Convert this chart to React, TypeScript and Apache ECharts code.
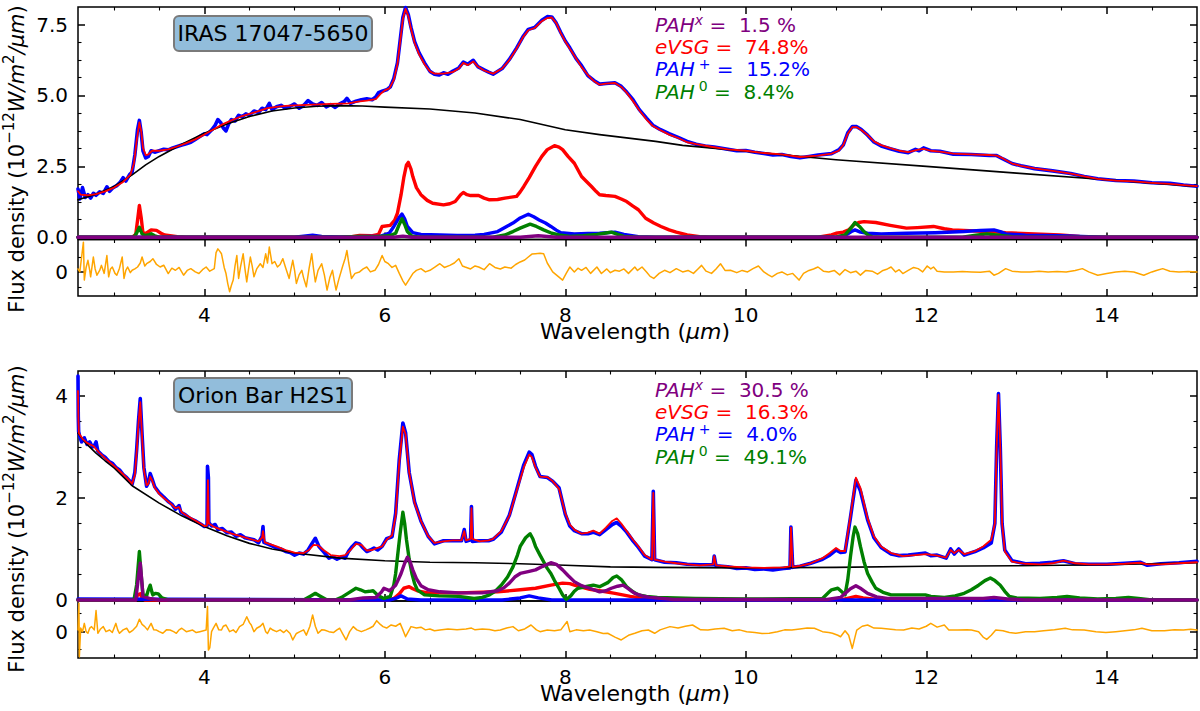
import * as echarts from "echarts";
import { useEffect, useRef } from "react";

const FONT = "DejaVu Sans";
const X_MIN = 2.6;
const X_MAX = 15;

// tick positions and labels
const xMajorTicks = [4, 6, 8, 10, 12, 14];
const xMinorTicks = [3, 3.5, 4.5, 5, 5.5, 6.5, 7, 7.5, 8.5, 9, 9.5, 10.5, 11, 11.5, 12.5, 13, 13.5, 14.5];
const topYMajor = [0, 2.5, 5, 7.5];
const topYMinor = [0.625, 1.25, 1.875, 3.125, 3.75, 4.375, 5.625, 6.25, 6.875];
const botYMajor = [0, 2, 4];
const botYMinor = [0.5, 1, 1.5, 2.5, 3, 3.5];
const resMajor = [0];
const resMinor = [-1, 1];

// annotation texts
const sourceNames = ["IRAS 17047-5650", "Orion Bar H2S1"];
const fracNames = ["PAH", "eVSG", "PAH", "PAH"];
const fracSups = ["x", "", "+", "0"];
const topPercents = ["1.5 %", "74.8%", "15.2%", "8.4%"];
const botPercents = ["30.5 %", "16.3%", "4.0%", "49.1%"];

// ---- IRAS 17047-5650 ----
const topObs = [
  [2.6, 1.7], [2.62, 1.35], [2.65, 1.75], [2.68, 1.4], [2.71, 1.5], [2.74, 1.38], [2.77, 1.55], [2.8, 1.48],
  [2.84, 1.6], [2.88, 1.55], [2.92, 1.78], [2.95, 1.62], [2.99, 1.75], [3.03, 1.82], [3.07, 1.95], [3.1, 2.1],
  [3.13, 1.98], [3.17, 2.2], [3.2, 2.3], [3.23, 2.9], [3.26, 3.8], [3.28, 4.12], [3.3, 3.7], [3.32, 3.05],
  [3.35, 2.8], [3.38, 2.85], [3.41, 3.05], [3.45, 3.0], [3.5, 3.05], [3.55, 3.1], [3.6, 3.08], [3.65, 3.15],
  [3.7, 3.2], [3.75, 3.25], [3.8, 3.3], [3.85, 3.35], [3.9, 3.45], [3.95, 3.55], [4.0, 3.65], [4.03, 3.62],
  [4.08, 3.78], [4.12, 3.95], [4.15, 4.15], [4.18, 4.05], [4.21, 3.85], [4.24, 3.75], [4.27, 4.0], [4.3, 4.15],
  [4.34, 4.1], [4.38, 4.3], [4.42, 4.25], [4.46, 4.35], [4.5, 4.3], [4.55, 4.45], [4.6, 4.4], [4.64, 4.55],
  [4.68, 4.5], [4.72, 4.72], [4.75, 4.5], [4.8, 4.6], [4.85, 4.65], [4.9, 4.55], [4.95, 4.62], [5.0, 4.7],
  [5.05, 4.55], [5.1, 4.65], [5.15, 4.82], [5.2, 4.7], [5.25, 4.65], [5.3, 4.75], [5.35, 4.6], [5.4, 4.68],
  [5.45, 4.58], [5.5, 4.7], [5.55, 4.78], [5.58, 4.9], [5.62, 4.72], [5.68, 4.8], [5.74, 4.85], [5.8, 4.88],
  [5.86, 4.85], [5.9, 4.95], [5.93, 5.1], [5.97, 5.15], [6.02, 5.2], [6.06, 5.3], [6.1, 5.6], [6.14, 6.15],
  [6.17, 6.95], [6.2, 7.75], [6.23, 8.1], [6.26, 7.85], [6.29, 7.4], [6.33, 6.9], [6.38, 6.5], [6.44, 6.15],
  [6.5, 5.85], [6.55, 5.75], [6.6, 5.72], [6.65, 5.8], [6.7, 5.75], [6.75, 5.85], [6.82, 5.97], [6.87, 6.18],
  [6.92, 6.1], [6.98, 6.24], [7.03, 6.02], [7.1, 5.9], [7.15, 5.82], [7.2, 5.75], [7.3, 5.95], [7.38, 6.27],
  [7.46, 6.67], [7.53, 7.07], [7.59, 7.33], [7.66, 7.4], [7.74, 7.65], [7.8, 7.78], [7.85, 7.77], [7.9, 7.55],
  [7.95, 7.22], [8.0, 6.92], [8.05, 6.68], [8.12, 6.3], [8.18, 6.05], [8.25, 5.7], [8.32, 5.52], [8.38, 5.4],
  [8.45, 5.42], [8.55, 5.45], [8.62, 5.32], [8.68, 5.12], [8.75, 4.85], [8.82, 4.5], [8.9, 4.2], [8.97, 3.95],
  [9.05, 3.8], [9.15, 3.65], [9.25, 3.52], [9.35, 3.38], [9.45, 3.28], [9.55, 3.22], [9.65, 3.18], [9.8, 3.1],
  [9.9, 3.05], [10.0, 3.06], [10.1, 3.0], [10.2, 2.95], [10.3, 2.9], [10.4, 2.92], [10.5, 2.85], [10.6, 2.8],
  [10.7, 2.85], [10.8, 2.9], [10.95, 2.95], [11.03, 3.08], [11.08, 3.25], [11.13, 3.68], [11.18, 3.9], [11.23, 3.9],
  [11.28, 3.8], [11.35, 3.6], [11.42, 3.36], [11.5, 3.22], [11.6, 3.12], [11.7, 3.03], [11.8, 2.98], [11.88, 3.1],
  [11.92, 3.05], [11.97, 3.15], [12.05, 3.05], [12.15, 3.03], [12.3, 2.93], [12.5, 2.92], [12.7, 2.88], [12.78, 2.88],
  [12.85, 2.76], [12.95, 2.6], [13.05, 2.52], [13.2, 2.42], [13.4, 2.34], [13.6, 2.25], [13.75, 2.14], [13.9, 2.06],
  [14.1, 2.0], [14.3, 1.98], [14.5, 1.92], [14.7, 1.9], [14.85, 1.84], [15.0, 1.8],
];
const topModel = [
  [2.6, 1.62], [2.63, 1.5], [2.7, 1.48], [2.8, 1.52], [2.9, 1.62], [3.0, 1.75], [3.1, 1.95], [3.18, 2.2],
  [3.22, 2.6], [3.25, 3.4], [3.28, 4.05], [3.3, 3.75], [3.32, 3.15], [3.35, 2.9], [3.38, 2.92], [3.42, 3.05],
  [3.5, 3.05], [3.6, 3.1], [3.7, 3.2], [3.8, 3.32], [3.9, 3.45], [4.0, 3.62], [4.1, 3.8], [4.2, 3.98],
  [4.3, 4.12], [4.4, 4.25], [4.5, 4.35], [4.6, 4.45], [4.7, 4.55], [4.8, 4.6], [4.9, 4.63], [5.0, 4.65],
  [5.2, 4.68], [5.4, 4.7], [5.6, 4.72], [5.7, 4.78], [5.8, 4.82], [5.9, 4.87], [5.95, 5.05], [6.0, 5.18],
  [6.05, 5.25], [6.1, 5.55], [6.14, 6.1], [6.17, 6.9], [6.2, 7.7], [6.23, 8.05], [6.26, 7.8], [6.29, 7.35],
  [6.33, 6.85], [6.38, 6.45], [6.44, 6.1], [6.5, 5.85], [6.55, 5.77], [6.65, 5.77], [6.75, 5.82], [6.82, 5.95],
  [6.87, 6.15], [6.92, 6.07], [6.98, 6.2], [7.03, 6.02], [7.1, 5.88], [7.2, 5.77], [7.3, 5.95], [7.38, 6.25],
  [7.46, 6.65], [7.53, 7.05], [7.59, 7.3], [7.66, 7.38], [7.74, 7.62], [7.8, 7.73], [7.85, 7.75], [7.9, 7.55],
  [7.95, 7.2], [8.0, 6.9], [8.05, 6.65], [8.12, 6.3], [8.18, 6.0], [8.25, 5.72], [8.32, 5.5], [8.38, 5.38],
  [8.45, 5.42], [8.55, 5.44], [8.62, 5.3], [8.68, 5.1], [8.75, 4.8], [8.82, 4.48], [8.9, 4.15], [8.97, 3.92],
  [9.05, 3.78], [9.15, 3.62], [9.25, 3.5], [9.35, 3.35], [9.45, 3.28], [9.6, 3.2], [9.8, 3.1], [10.0, 3.05],
  [10.2, 2.97], [10.4, 2.92], [10.6, 2.83], [10.8, 2.88], [10.95, 2.95], [11.03, 3.05], [11.08, 3.25], [11.13, 3.65],
  [11.18, 3.88], [11.23, 3.88], [11.28, 3.78], [11.35, 3.6], [11.42, 3.38], [11.5, 3.25], [11.6, 3.14], [11.7, 3.05],
  [11.8, 3.0], [11.9, 3.08], [11.97, 3.12], [12.05, 3.05], [12.15, 3.02], [12.3, 2.95], [12.5, 2.92], [12.7, 2.9],
  [12.78, 2.88], [12.85, 2.78], [12.95, 2.6], [13.05, 2.52], [13.2, 2.43], [13.4, 2.34], [13.6, 2.24], [13.75, 2.15],
  [13.9, 2.06], [14.1, 2.0], [14.3, 1.97], [14.5, 1.92], [14.7, 1.88], [14.85, 1.84], [15.0, 1.8],
];
const topCont = [
  [2.6, 1.32], [2.8, 1.52], [3.0, 1.79], [3.2, 2.2], [3.35, 2.55], [3.5, 2.85], [3.75, 3.28], [4.0, 3.67],
  [4.25, 3.99], [4.5, 4.26], [4.75, 4.45], [5.0, 4.56], [5.25, 4.62], [5.5, 4.64], [5.75, 4.63], [6.0, 4.59],
  [6.5, 4.52], [7.0, 4.38], [7.5, 4.15], [8.0, 3.79], [8.38, 3.62], [9.0, 3.38], [9.3, 3.24], [10.0, 3.03],
  [11.0, 2.73], [12.0, 2.5], [13.0, 2.26], [14.0, 2.03], [15.0, 1.79],
];
const topEvsg = [
  [2.6, 0], [3.2, 0], [3.24, 0.1], [3.26, 0.6], [3.28, 1.12], [3.3, 0.7], [3.32, 0.14], [3.36, 0.15],
  [3.41, 0.26], [3.47, 0.24], [3.52, 0.14], [3.56, 0.08], [3.7, 0.02], [3.8, 0], [5.6, 0], [5.72, 0.06],
  [5.85, 0.05], [5.93, 0.1], [5.97, 0.38], [6.06, 0.42], [6.11, 0.6], [6.14, 0.85], [6.18, 1.5], [6.21, 2.1],
  [6.24, 2.55], [6.26, 2.64], [6.29, 2.4], [6.31, 2.14], [6.35, 1.75], [6.4, 1.5], [6.47, 1.3], [6.53, 1.2],
  [6.65, 1.14], [6.72, 1.18], [6.78, 1.26], [6.84, 1.5], [6.87, 1.58], [6.91, 1.5], [6.95, 1.47], [7.04, 1.47],
  [7.1, 1.38], [7.16, 1.32], [7.25, 1.33], [7.33, 1.38], [7.46, 1.44], [7.5, 1.6], [7.54, 1.79], [7.6, 2.1],
  [7.67, 2.5], [7.74, 2.85], [7.8, 3.09], [7.88, 3.23], [7.93, 3.18], [7.97, 3.09], [8.03, 2.85], [8.1, 2.61],
  [8.18, 2.14], [8.24, 1.95], [8.29, 1.79], [8.34, 1.62], [8.38, 1.5], [8.45, 1.47], [8.55, 1.44], [8.62, 1.35],
  [8.68, 1.26], [8.75, 1.1], [8.81, 0.97], [8.89, 0.67], [8.98, 0.5], [9.06, 0.38], [9.15, 0.26], [9.23, 0.18],
  [9.35, 0.08], [9.49, 0.02], [9.6, 0], [10.8, 0], [10.95, 0.08], [11.0, 0.14], [11.08, 0.18], [11.14, 0.26],
  [11.2, 0.45], [11.25, 0.52], [11.31, 0.55], [11.44, 0.52], [11.6, 0.42], [11.78, 0.32], [11.9, 0.34], [12.08, 0.38],
  [12.2, 0.3], [12.29, 0.26], [12.54, 0.22], [12.7, 0.2], [12.88, 0.16], [13.2, 0.12], [13.48, 0.08], [13.7, 0.03],
  [13.9, 0], [15, 0],
];
const topPahPlus = [
  [2.6, 0], [5.0, 0], [5.1, 0.04], [5.2, 0.07], [5.3, 0.03], [5.5, 0.01], [5.8, 0.03], [5.95, 0.03],
  [6.05, 0.15], [6.1, 0.38], [6.16, 0.7], [6.19, 0.82], [6.22, 0.65], [6.25, 0.38], [6.31, 0.16], [6.4, 0.1],
  [6.61, 0.08], [6.8, 0.06], [7.0, 0.07], [7.1, 0.1], [7.25, 0.2], [7.35, 0.38], [7.42, 0.5], [7.5, 0.68],
  [7.59, 0.81], [7.65, 0.72], [7.71, 0.61], [7.78, 0.5], [7.84, 0.38], [7.9, 0.25], [7.95, 0.16], [8.1, 0.12],
  [8.25, 0.13], [8.38, 0.14], [8.55, 0.18], [8.65, 0.1], [8.81, 0.02], [9.0, 0], [11.0, 0], [11.1, 0.06],
  [11.17, 0.2], [11.21, 0.26], [11.27, 0.18], [11.35, 0.14], [11.5, 0.12], [11.78, 0.14], [12.1, 0.16], [12.42, 0.2],
  [12.6, 0.24], [12.75, 0.26], [12.82, 0.2], [12.88, 0.12], [13.1, 0.07], [13.48, 0.05], [13.8, 0.02], [14.0, 0],
  [15, 0],
];
const topPah0 = [
  [2.6, 0], [3.22, 0], [3.25, 0.15], [3.28, 0.35], [3.31, 0.12], [3.34, 0.06], [3.38, 0.08], [3.41, 0.12],
  [3.45, 0.05], [3.5, 0], [5.5, 0], [5.7, 0.03], [5.9, 0.02], [6.05, 0.05], [6.12, 0.14], [6.16, 0.45],
  [6.19, 0.65], [6.22, 0.45], [6.25, 0.2], [6.3, 0.04], [6.4, 0], [7.2, 0], [7.33, 0.08], [7.42, 0.2],
  [7.5, 0.32], [7.61, 0.46], [7.68, 0.38], [7.76, 0.26], [7.85, 0.14], [7.93, 0.08], [8.05, 0.03], [8.2, 0.05],
  [8.35, 0.1], [8.45, 0.15], [8.51, 0.18], [8.58, 0.1], [8.65, 0.03], [8.8, 0], [11.0, 0], [11.1, 0.08],
  [11.16, 0.3], [11.21, 0.52], [11.26, 0.38], [11.31, 0.2], [11.36, 0.06], [11.4, 0.02], [11.5, 0], [12.4, 0],
  [12.55, 0.07], [12.67, 0.12], [12.8, 0.07], [12.95, 0.02], [13.1, 0], [15, 0],
];
const topPahX = [
  [2.6, 0], [6.1, 0], [6.2, 0.04], [6.3, 0], [7.5, 0], [7.7, 0.05], [7.9, 0], [15, 0],
];
const topResid = [
  [2.6, 0.2], [2.62, 0], [2.64, 1.0], [2.66, 2.0], [2.67, -0.55], [2.69, 0.3], [2.71, 0.78], [2.73, 0.1],
  [2.74, -0.33], [2.77, 1.0], [2.79, 0.2], [2.81, -0.22], [2.84, 0.1], [2.86, 0.44], [2.89, -0.1], [2.92, 1.1],
  [2.94, -0.33], [2.96, 0.2], [2.98, 0.33], [3.01, -0.1], [3.03, -0.22], [3.06, 0.25], [3.09, 1.0], [3.11, -0.44],
  [3.13, 0.1], [3.15, 0.33], [3.18, -0.05], [3.2, 0.11], [3.23, 0.2], [3.26, 0.33], [3.29, 0.6], [3.31, 1.0],
  [3.34, 0.4], [3.36, 0.55], [3.4, 0.7], [3.43, 0.89], [3.47, 0.5], [3.51, 0.33], [3.55, 0.45], [3.6, -0.11],
  [3.64, 0.25], [3.68, 0.11], [3.72, 0.3], [3.77, -0.22], [3.81, 0.1], [3.85, 0.22], [3.9, 0.0], [3.94, -0.11],
  [3.98, 0.15], [4.02, 0.33], [4.06, 0.05], [4.11, 0.22], [4.13, 1.3], [4.15, 1.55], [4.17, 1.4], [4.19, 1.22],
  [4.22, 0.3], [4.24, -0.11], [4.26, -0.8], [4.28, -1.33], [4.3, -0.9], [4.32, -0.55], [4.34, 0.4], [4.36, 1.1],
  [4.38, -0.44], [4.4, 0.3], [4.43, 1.22], [4.45, 0.2], [4.47, -0.67], [4.49, 0.2], [4.51, 1.0], [4.53, 0.4],
  [4.55, -0.33], [4.58, 0.2], [4.62, 0.55], [4.65, 0.3], [4.68, 1.22], [4.7, 0.6], [4.72, 1.67], [4.75, 0.55],
  [4.78, 0.7], [4.81, 0.33], [4.84, 0.5], [4.87, 0.89], [4.9, 0.3], [4.94, -0.44], [4.96, 0.2], [4.98, 0.78],
  [5.0, 0.1], [5.02, -0.78], [5.05, -0.2], [5.08, 0.11], [5.1, -0.4], [5.13, -1.0], [5.16, 0.2], [5.19, 1.22],
  [5.21, 0.2], [5.23, -0.67], [5.26, 0.1], [5.3, 0.55], [5.33, -0.2], [5.36, -1.22], [5.39, -0.4], [5.42, 0.11],
  [5.44, -0.6], [5.46, -1.22], [5.49, -0.5], [5.53, 0.33], [5.56, 0.9], [5.58, 1.44], [5.6, 0.6], [5.63, -0.44],
  [5.67, -0.1], [5.72, 0.0], [5.76, 0.2], [5.8, 0.33], [5.84, 0.0], [5.89, 0.11], [5.93, 0.5], [5.97, 1.1],
  [6.0, 0.7], [6.04, 0.55], [6.08, 0.3], [6.12, 0.44], [6.16, -0.1], [6.2, -0.6], [6.23, -0.89], [6.27, -0.5],
  [6.31, -0.11], [6.35, 0.1], [6.4, 0.22], [6.45, 0.0], [6.5, 0.11], [6.55, 0.3], [6.61, 0.55], [6.66, 0.3],
  [6.72, 0.44], [6.77, 0.6], [6.82, 0.89], [6.86, 0.4], [6.89, 0.33], [6.95, 0.2], [7.0, 0.4], [7.04, 0.33],
  [7.1, 0.15], [7.16, 0.55], [7.22, 0.3], [7.28, 0.2], [7.33, 0.33], [7.4, 0.25], [7.45, 0.5], [7.5, 0.67],
  [7.55, 0.8], [7.59, 1.0], [7.63, 1.2], [7.67, 1.22], [7.72, 1.25], [7.76, 1.22], [7.8, 0.6], [7.86, 0.0],
  [7.92, -0.3], [7.97, -0.55], [8.01, -0.1], [8.05, 0.33], [8.1, 0.0], [8.14, 0.25], [8.18, 0.11], [8.23, 0.3],
  [8.28, -0.1], [8.35, 0.33], [8.4, -0.11], [8.46, 0.2], [8.5, -0.05], [8.55, 0.11], [8.6, 0.05], [8.65, 0.2],
  [8.7, -0.1], [8.77, 0.33], [8.8, 0.1], [8.85, 0.33], [8.9, 0.0], [8.94, -0.3], [8.98, -0.44], [9.04, -0.1],
  [9.1, 0.11], [9.16, -0.05], [9.23, 0.22], [9.3, 0.0], [9.36, 0.1], [9.42, -0.1], [9.47, 0.2], [9.51, 0.44],
  [9.56, 0.05], [9.62, -0.1], [9.67, 0.2], [9.72, 0.55], [9.77, 0.1], [9.83, 0.11], [9.9, -0.05], [9.96, 0.1],
  [10.02, 0.0], [10.08, 0.22], [10.14, 0.4], [10.2, 0.0], [10.25, -0.2], [10.29, -0.33], [10.35, -0.1], [10.4, 0.0],
  [10.46, -0.2], [10.52, -0.1], [10.59, -0.55], [10.64, -0.1], [10.7, 0.1], [10.75, 0.2], [10.8, 0.33], [10.86, 0.05],
  [10.92, 0.0], [10.98, 0.1], [11.04, -0.2], [11.1, 0.16], [11.16, -0.05], [11.22, 0.05], [11.27, -0.22], [11.33, 0.1],
  [11.4, 0.05], [11.46, -0.15], [11.52, 0.1], [11.57, 0.2], [11.61, 0.33], [11.66, 0.0], [11.7, 0.15], [11.74, -0.11],
  [11.8, 0.1], [11.86, 0.3], [11.91, 0.22], [11.96, 0.0], [12.01, 0.4], [12.05, 0.2], [12.08, 0.33], [12.12, 0.05],
  [12.2, 0.0], [12.3, 0.0], [12.4, 0.02], [12.5, 0.0], [12.6, -0.02], [12.7, 0.05], [12.75, -0.22], [12.8, -0.1],
  [12.88, 0.22], [12.95, 0.05], [13.05, 0.0], [13.15, 0.0], [13.25, 0.05], [13.35, 0.0], [13.45, 0.02], [13.55, 0.0],
  [13.65, 0.1], [13.73, 0.22], [13.8, 0.0], [13.9, -0.22], [14.0, -0.1], [14.1, 0.0], [14.2, 0.05], [14.3, 0.0],
  [14.41, -0.22], [14.5, 0.0], [14.55, 0.1], [14.62, 0.22], [14.7, 0.05], [14.8, 0.0], [14.9, 0.02], [15.0, 0.0],
];

// ---- Orion Bar H2S1 ----
const botObs = [
  [2.6, 4.39], [2.603, 3.6], [2.607, 3.3], [2.62, 3.2], [2.64, 3.1], [2.67, 3.18], [2.7, 3.05], [2.73, 3.1],
  [2.76, 3.0], [2.78, 3.02], [2.8, 3.1], [2.82, 2.92], [2.86, 2.85], [2.9, 2.8], [2.94, 2.72], [2.98, 2.68],
  [3.02, 2.6], [3.06, 2.55], [3.1, 2.46], [3.14, 2.4], [3.18, 2.32], [3.2, 2.27], [3.23, 2.5], [3.25, 2.95],
  [3.27, 3.5], [3.29, 3.95], [3.31, 3.25], [3.33, 2.6], [3.36, 2.23], [3.38, 2.3], [3.4, 2.48], [3.42, 2.38],
  [3.45, 2.22], [3.5, 2.1], [3.55, 2.02], [3.6, 1.93], [3.64, 1.88], [3.68, 1.78], [3.72, 1.85], [3.74, 1.72],
  [3.78, 1.68], [3.84, 1.6], [3.9, 1.55], [3.95, 1.5], [4.0, 1.44], [4.03, 1.45], [4.035, 2.62], [4.045, 2.4],
  [4.05, 1.52], [4.08, 1.45], [4.12, 1.48], [4.15, 1.38], [4.2, 1.4], [4.25, 1.32], [4.3, 1.33], [4.35, 1.25],
  [4.4, 1.28], [4.45, 1.22], [4.5, 1.2], [4.55, 1.18], [4.6, 1.12], [4.64, 1.25], [4.65, 1.44], [4.66, 1.13],
  [4.7, 1.1], [4.75, 1.06], [4.8, 1.02], [4.85, 1.0], [4.9, 0.95], [4.95, 0.93], [5.0, 0.88], [5.05, 0.92],
  [5.1, 0.9], [5.15, 0.98], [5.19, 1.1], [5.23, 1.21], [5.27, 1.05], [5.32, 0.95], [5.38, 0.82], [5.42, 0.85],
  [5.47, 0.8], [5.52, 0.84], [5.56, 0.82], [5.6, 0.96], [5.64, 1.05], [5.68, 1.12], [5.72, 1.1], [5.76, 1.02],
  [5.8, 0.95], [5.84, 0.98], [5.88, 1.02], [5.92, 0.98], [5.97, 1.05], [6.02, 1.2], [6.08, 1.24], [6.12, 1.7],
  [6.16, 2.75], [6.2, 3.47], [6.23, 3.28], [6.27, 2.5], [6.33, 1.92], [6.4, 1.55], [6.48, 1.25], [6.55, 1.1],
  [6.65, 1.16], [6.75, 1.16], [6.85, 1.16], [6.88, 1.38], [6.9, 1.15], [6.95, 1.18], [6.96, 1.83], [6.97, 1.15],
  [7.05, 1.16], [7.15, 1.16], [7.2, 1.19], [7.29, 1.33], [7.38, 1.66], [7.46, 2.15], [7.54, 2.65], [7.6, 2.9],
  [7.63, 2.85], [7.67, 2.62], [7.72, 2.42], [7.8, 2.4], [7.86, 2.33], [7.93, 2.2], [8.0, 1.68], [8.05, 1.45],
  [8.1, 1.36], [8.18, 1.3], [8.25, 1.3], [8.31, 1.33], [8.38, 1.28], [8.45, 1.38], [8.52, 1.48], [8.57, 1.52],
  [8.62, 1.45], [8.68, 1.33], [8.75, 1.16], [8.81, 1.03], [8.88, 0.86], [8.96, 0.79], [8.975, 2.13], [8.99, 0.79],
  [9.1, 0.74], [9.23, 0.73], [9.35, 0.7], [9.49, 0.69], [9.64, 0.69], [9.65, 0.86], [9.67, 0.67], [9.8, 0.65],
  [9.9, 0.62], [10.0, 0.63], [10.1, 0.6], [10.2, 0.61], [10.3, 0.59], [10.42, 0.62], [10.49, 0.63], [10.5, 1.43],
  [10.52, 0.64], [10.6, 0.66], [10.72, 0.72], [10.85, 0.8], [10.93, 0.88], [11.0, 0.98], [11.05, 0.93], [11.1, 0.94],
  [11.16, 1.62], [11.22, 2.35], [11.27, 2.14], [11.35, 1.57], [11.42, 1.22], [11.5, 1.03], [11.61, 0.9], [11.7, 0.87],
  [11.8, 0.88], [11.9, 0.9], [11.99, 0.92], [12.05, 0.87], [12.12, 0.88], [12.22, 0.82], [12.27, 1.0], [12.31, 0.9],
  [12.36, 1.0], [12.42, 0.88], [12.54, 0.95], [12.63, 1.02], [12.72, 1.12], [12.76, 1.5], [12.78, 3.0], [12.8, 4.05],
  [12.82, 3.0], [12.84, 1.5], [12.87, 0.98], [12.95, 0.77], [13.1, 0.71], [13.26, 0.72], [13.4, 0.74], [13.52, 0.77],
  [13.65, 0.71], [13.8, 0.7], [14.0, 0.7], [14.2, 0.72], [14.37, 0.74], [14.45, 0.68], [14.6, 0.71], [14.8, 0.73],
  [15.0, 0.76],
];
const botModel = [
  [2.6, 4.1], [2.605, 3.5], [2.61, 3.27], [2.65, 3.16], [2.7, 3.08], [2.77, 3.02], [2.83, 2.9], [2.9, 2.78],
  [3.0, 2.63], [3.08, 2.5], [3.15, 2.38], [3.2, 2.28], [3.23, 2.45], [3.25, 2.9], [3.27, 3.45], [3.29, 3.88],
  [3.31, 3.2], [3.33, 2.55], [3.36, 2.25], [3.38, 2.28], [3.4, 2.42], [3.42, 2.35], [3.45, 2.2], [3.5, 2.08],
  [3.55, 2.0], [3.62, 1.9], [3.68, 1.8], [3.72, 1.82], [3.75, 1.72], [3.8, 1.66], [3.9, 1.56], [4.0, 1.45],
  [4.03, 1.46], [4.04, 2.35], [4.05, 1.5], [4.1, 1.44], [4.2, 1.37], [4.3, 1.3], [4.4, 1.25], [4.5, 1.2],
  [4.6, 1.15], [4.64, 1.22], [4.65, 1.35], [4.67, 1.13], [4.8, 1.05], [4.9, 0.98], [5.0, 0.93], [5.1, 0.92],
  [5.16, 0.98], [5.21, 1.08], [5.26, 1.07], [5.32, 0.98], [5.4, 0.88], [5.5, 0.86], [5.56, 0.88], [5.62, 0.98],
  [5.68, 1.1], [5.74, 1.08], [5.8, 0.97], [5.86, 0.98], [5.92, 1.02], [5.97, 1.05], [6.02, 1.18], [6.08, 1.27],
  [6.12, 1.65], [6.16, 2.7], [6.2, 3.4], [6.23, 3.25], [6.27, 2.5], [6.33, 1.9], [6.4, 1.55], [6.48, 1.25],
  [6.55, 1.12], [6.65, 1.15], [6.75, 1.17], [6.85, 1.17], [6.88, 1.35], [6.9, 1.17], [6.95, 1.2], [6.96, 1.8],
  [6.97, 1.2], [7.05, 1.15], [7.15, 1.17], [7.2, 1.2], [7.29, 1.35], [7.38, 1.65], [7.46, 2.13], [7.54, 2.6],
  [7.6, 2.85], [7.63, 2.8], [7.67, 2.6], [7.72, 2.42], [7.8, 2.41], [7.86, 2.33], [7.93, 2.18], [8.0, 1.7],
  [8.05, 1.48], [8.1, 1.38], [8.18, 1.3], [8.25, 1.32], [8.31, 1.36], [8.38, 1.3], [8.45, 1.42], [8.52, 1.55],
  [8.57, 1.6], [8.62, 1.5], [8.68, 1.35], [8.75, 1.18], [8.81, 1.05], [8.88, 0.88], [8.96, 0.79], [8.975, 2.1],
  [8.99, 0.79], [9.1, 0.75], [9.23, 0.72], [9.35, 0.7], [9.49, 0.68], [9.64, 0.7], [9.65, 0.86], [9.67, 0.68],
  [9.8, 0.66], [10.0, 0.64], [10.2, 0.63], [10.42, 0.64], [10.49, 0.66], [10.5, 1.42], [10.52, 0.65], [10.6, 0.67],
  [10.72, 0.72], [10.85, 0.82], [10.93, 0.92], [11.0, 1.02], [11.05, 0.96], [11.1, 0.96], [11.16, 1.65], [11.22, 2.4],
  [11.27, 2.2], [11.35, 1.6], [11.42, 1.25], [11.5, 1.05], [11.61, 0.92], [11.74, 0.86], [11.88, 0.88], [12.0, 0.9],
  [12.12, 0.87], [12.22, 0.83], [12.27, 0.98], [12.31, 0.92], [12.36, 0.98], [12.42, 0.9], [12.54, 0.96], [12.63, 1.05],
  [12.72, 1.18], [12.76, 1.5], [12.78, 3.0], [12.8, 4.02], [12.82, 3.0], [12.84, 1.5], [12.87, 0.95], [12.95, 0.75],
  [13.1, 0.71], [13.26, 0.7], [13.4, 0.72], [13.52, 0.77], [13.65, 0.72], [13.8, 0.7], [14.0, 0.7], [14.2, 0.71],
  [14.37, 0.73], [14.45, 0.7], [14.6, 0.7], [14.8, 0.72], [15.0, 0.74],
];
const botCont = [
  [2.6, 3.27], [2.7, 3.05], [2.8, 2.88], [2.9, 2.73], [3.0, 2.59], [3.2, 2.24], [3.5, 1.9], [3.75, 1.65],
  [4.0, 1.44], [4.25, 1.26], [4.5, 1.11], [4.75, 1.0], [5.0, 0.92], [5.5, 0.82], [6.0, 0.77], [6.5, 0.74],
  [7.0, 0.73], [7.5, 0.71], [8.0, 0.68], [8.5, 0.65], [9.0, 0.64], [10.0, 0.63], [11.0, 0.64], [12.0, 0.66],
  [13.0, 0.67], [14.0, 0.69], [15.0, 0.73],
];
const botEvsg = [
  [2.6, 0], [3.24, 0], [3.26, 0.1], [3.29, 0.12], [3.31, 0.05], [3.34, 0], [6.05, 0], [6.1, 0.03],
  [6.16, 0.12], [6.21, 0.23], [6.27, 0.26], [6.31, 0.22], [6.36, 0.18], [6.48, 0.14], [6.82, 0.14], [7.25, 0.16],
  [7.5, 0.2], [7.67, 0.23], [7.84, 0.29], [7.97, 0.33], [8.05, 0.32], [8.1, 0.29], [8.27, 0.21], [8.38, 0.18],
  [8.55, 0.13], [8.72, 0.07], [8.9, 0.02], [9.1, 0], [11.05, 0], [11.15, 0.04], [11.22, 0.07], [11.3, 0.04],
  [11.45, 0.01], [11.6, 0], [15, 0],
];
const botPahPlus = [
  [2.6, 0.02], [6.05, 0], [6.12, 0.03], [6.18, 0.08], [6.25, 0.02], [6.4, 0], [7.3, 0], [7.5, 0.04],
  [7.6, 0.08], [7.7, 0.04], [7.85, 0], [15, 0],
];
const botPah0 = [
  [2.6, 0], [3.22, 0], [3.25, 0.3], [3.28, 0.95], [3.3, 0.5], [3.32, 0.1], [3.36, 0.08], [3.38, 0.2],
  [3.4, 0.29], [3.42, 0.15], [3.43, 0.1], [3.46, 0.13], [3.49, 0.12], [3.53, 0.04], [3.6, 0], [5.1, 0],
  [5.18, 0.08], [5.23, 0.13], [5.28, 0.08], [5.35, 0.01], [5.45, 0], [5.52, 0.05], [5.59, 0.13], [5.68, 0.23],
  [5.73, 0.2], [5.78, 0.16], [5.83, 0.17], [5.87, 0.18], [5.93, 0.08], [5.99, 0.03], [6.06, 0.07], [6.1, 0.3],
  [6.12, 0.52], [6.15, 1.0], [6.17, 1.31], [6.2, 1.72], [6.22, 1.5], [6.24, 1.18], [6.27, 0.8], [6.3, 0.52],
  [6.33, 0.32], [6.36, 0.2], [6.44, 0.1], [6.6, 0.08], [6.82, 0.07], [6.99, 0.03], [7.08, 0.05], [7.16, 0.1],
  [7.23, 0.18], [7.29, 0.29], [7.36, 0.45], [7.42, 0.65], [7.47, 0.88], [7.5, 1.05], [7.56, 1.22], [7.61, 1.3],
  [7.64, 1.2], [7.67, 1.05], [7.72, 0.88], [7.76, 0.75], [7.8, 0.62], [7.84, 0.52], [7.88, 0.38], [7.93, 0.23],
  [7.97, 0.1], [8.01, 0.01], [8.06, 0.08], [8.1, 0.17], [8.14, 0.23], [8.22, 0.26], [8.31, 0.29], [8.38, 0.26],
  [8.47, 0.34], [8.53, 0.44], [8.57, 0.47], [8.62, 0.4], [8.68, 0.26], [8.75, 0.16], [8.81, 0.1], [8.9, 0.07],
  [9.02, 0.05], [9.44, 0.03], [10.0, 0.02], [10.85, 0.03], [10.92, 0.15], [10.95, 0.2], [11.02, 0.23], [11.07, 0.15],
  [11.1, 0.1], [11.13, 0.4], [11.16, 0.85], [11.19, 1.25], [11.21, 1.43], [11.24, 1.3], [11.27, 1.05], [11.31, 0.75],
  [11.35, 0.52], [11.4, 0.35], [11.44, 0.23], [11.52, 0.15], [11.61, 0.1], [11.8, 0.1], [11.99, 0.1], [12.05, 0.07],
  [12.2, 0.05], [12.32, 0.08], [12.42, 0.13], [12.5, 0.2], [12.58, 0.29], [12.65, 0.38], [12.71, 0.43], [12.76, 0.38],
  [12.82, 0.29], [12.87, 0.17], [12.92, 0.07], [13.0, 0.04], [13.26, 0.03], [13.45, 0.05], [13.56, 0.07], [13.7, 0.04],
  [13.9, 0.02], [14.1, 0.03], [14.24, 0.05], [14.35, 0.03], [14.5, 0], [15, 0],
];
const botPahX = [
  [2.6, 0], [3.24, 0], [3.27, 0.45], [3.29, 0.72], [3.31, 0.3], [3.32, 0.07], [3.39, 0.03], [3.5, 0],
  [5.6, 0], [5.76, 0.04], [5.9, 0.05], [5.96, 0.15], [5.99, 0.23], [6.03, 0.2], [6.05, 0.18], [6.09, 0.24],
  [6.12, 0.29], [6.15, 0.4], [6.18, 0.52], [6.22, 0.72], [6.25, 0.84], [6.28, 0.75], [6.31, 0.59], [6.35, 0.42],
  [6.4, 0.28], [6.48, 0.2], [6.61, 0.16], [6.82, 0.14], [7.08, 0.14], [7.25, 0.18], [7.32, 0.24], [7.38, 0.33],
  [7.44, 0.45], [7.5, 0.52], [7.6, 0.56], [7.67, 0.59], [7.75, 0.66], [7.84, 0.73], [7.9, 0.7], [7.97, 0.59],
  [8.03, 0.48], [8.1, 0.36], [8.18, 0.28], [8.27, 0.23], [8.38, 0.16], [8.45, 0.18], [8.51, 0.23], [8.58, 0.27],
  [8.64, 0.29], [8.7, 0.22], [8.77, 0.13], [8.85, 0.08], [8.94, 0.05], [9.2, 0.01], [10.9, 0.01], [11.05, 0.05],
  [11.1, 0.13], [11.16, 0.22], [11.22, 0.28], [11.28, 0.22], [11.35, 0.13], [11.45, 0.06], [11.57, 0.03], [12.63, 0.03],
  [12.75, 0.05], [12.9, 0.02], [13.1, 0], [15, 0],
];
const botResid = [
  [2.6, 0.1], [2.61, 1.57], [2.615, -1.39], [2.63, 0.2], [2.65, 0.0], [2.67, 0.46], [2.69, 0.0], [2.71, -0.09],
  [2.73, 0.2], [2.75, 0.28], [2.78, 0.1], [2.8, 1.17], [2.82, -0.09], [2.85, 0.15], [2.88, 0.28], [2.91, 0.0],
  [2.95, 0.09], [2.98, -0.05], [3.02, 0.46], [3.04, 0.1], [3.06, -0.09], [3.1, 0.1], [3.14, 0.19], [3.17, -0.05],
  [3.21, 0.09], [3.25, 0.3], [3.28, 0.69], [3.31, 0.4], [3.34, 0.28], [3.37, 0.1], [3.41, 0.46], [3.44, 0.1],
  [3.47, 0.09], [3.5, 0.0], [3.54, -0.09], [3.58, 0.1], [3.62, 0.09], [3.66, 0.0], [3.69, -0.09], [3.72, 0.1],
  [3.75, 0.19], [3.8, 0.0], [3.84, 0.05], [3.87, 0.09], [3.91, -0.05], [3.95, 0.0], [3.99, 0.05], [4.02, 0.09],
  [4.035, 1.39], [4.045, -1.02], [4.06, -0.9], [4.08, 0.0], [4.1, 0.2], [4.13, 0.46], [4.16, 0.1], [4.19, 0.09],
  [4.21, 0.3], [4.24, 0.37], [4.28, 0.0], [4.32, 0.1], [4.35, -0.05], [4.39, 0.28], [4.43, 0.4], [4.47, 0.83],
  [4.5, 0.5], [4.52, 0.37], [4.55, 0.0], [4.58, 0.19], [4.62, 0.3], [4.65, 0.46], [4.68, 0.0], [4.7, -0.1],
  [4.73, 0.2], [4.76, 0.09], [4.8, 0.0], [4.84, 0.1], [4.88, -0.05], [4.91, 0.09], [4.95, -0.1], [4.98, -0.46],
  [5.02, -0.1], [5.06, 0.0], [5.1, 0.1], [5.13, -0.19], [5.17, 0.3], [5.2, 0.93], [5.23, 0.3], [5.26, -0.09],
  [5.3, 0.1], [5.33, 0.09], [5.38, 0.0], [5.43, -0.05], [5.47, 0.1], [5.5, 0.19], [5.53, -0.1], [5.57, -0.46],
  [5.61, 0.0], [5.65, 0.28], [5.69, 0.1], [5.74, 0.0], [5.79, 0.1], [5.83, 0.19], [5.87, 0.3], [5.91, 0.61],
  [5.95, 0.4], [5.98, 0.28], [6.02, 0.2], [6.07, 0.37], [6.12, 0.3], [6.17, 0.46], [6.2, 0.1], [6.23, -0.28],
  [6.26, 0.0], [6.29, 0.28], [6.35, 0.2], [6.4, 0.25], [6.45, 0.1], [6.5, 0.15], [6.55, 0.05], [6.61, 0.09],
  [6.7, 0.15], [6.8, 0.1], [6.9, 0.15], [6.96, 0.2], [7.0, 0.1], [7.08, 0.15], [7.16, 0.12], [7.22, 0.05],
  [7.28, 0.09], [7.35, 0.2], [7.42, 0.28], [7.48, 0.05], [7.55, 0.15], [7.62, 0.37], [7.68, 0.1], [7.72, 0.0],
  [7.8, 0.09], [7.88, 0.05], [7.95, 0.1], [8.02, 0.56], [8.05, 0.0], [8.12, 0.1], [8.2, 0.05], [8.27, 0.09],
  [8.35, 0.0], [8.42, -0.1], [8.47, -0.09], [8.55, -0.3], [8.62, -0.46], [8.7, -0.2], [8.77, -0.09], [8.85, 0.05],
  [8.92, 0.09], [8.99, -0.09], [9.05, 0.1], [9.16, 0.28], [9.25, 0.2], [9.33, 0.3], [9.41, 0.37], [9.5, 0.1],
  [9.58, 0.09], [9.66, 0.15], [9.76, 0.19], [9.85, 0.05], [9.93, 0.1], [10.01, 0.0], [10.1, -0.05], [10.18, -0.1],
  [10.26, -0.09], [10.35, 0.0], [10.43, 0.1], [10.51, 0.09], [10.6, 0.15], [10.68, 0.2], [10.76, 0.19], [10.85, 0.0],
  [10.92, -0.05], [10.96, -0.09], [11.02, -0.2], [11.05, -0.28], [11.1, 0.05], [11.14, -0.2], [11.18, -0.93], [11.21, -0.3],
  [11.23, 0.09], [11.29, 0.3], [11.35, 0.37], [11.42, 0.2], [11.5, 0.19], [11.58, 0.15], [11.66, 0.1], [11.75, 0.09],
  [11.84, 0.2], [11.92, 0.15], [12.0, 0.3], [12.05, 0.46], [12.12, 0.25], [12.2, 0.37], [12.25, 0.09], [12.35, 0.09],
  [12.45, 0.1], [12.5, 0.09], [12.58, 0.0], [12.63, -0.3], [12.67, -0.43], [12.72, -0.2], [12.77, 0.09], [12.85, 0.05],
  [12.92, -0.05], [12.99, -0.09], [13.1, 0.0], [13.2, 0.0], [13.3, 0.05], [13.42, 0.1], [13.54, 0.19], [13.62, 0.1],
  [13.75, 0.09], [13.88, 0.0], [13.99, -0.05], [14.1, 0.0], [14.2, 0.05], [14.3, 0.1], [14.39, 0.19], [14.5, 0.05],
  [14.64, 0.05], [14.75, 0.1], [14.85, 0.09], [14.93, 0.13], [15.0, 0.09],
];

type Obj = Record<string, unknown>;

function buildOption() {
  const grids = [
    { left: 78, top: 7, width: 1119, height: 232.5 },
    { left: 78, top: 239.5, width: 1119, height: 56.5 },
    { left: 78, top: 371, width: 1119, height: 230 },
    { left: 78, top: 601, width: 1119, height: 57 },
  ].map((g) => ({ ...g, show: true, borderColor: "#000", borderWidth: 1.5, backgroundColor: "transparent" }));

  const xAxes: Obj[] = [];
  const yAxes: Obj[] = [];
  const labelStyle = { fontSize: 20, fontFamily: FONT, color: "#000" };

  const addX = (grid: number, position: string, ticks: number[], len: number, labels?: number[]) => {
    xAxes.push({
      type: "value", gridIndex: grid, position, min: X_MIN, max: X_MAX,
      axisLine: { show: false, onZero: false },
      splitLine: { show: false },
      axisTick: { show: true, inside: true, length: len, customValues: ticks, lineStyle: { color: "#000", width: len > 5 ? 1.5 : 1.1 } },
      axisLabel: labels
        ? { show: true, customValues: labels, margin: 9, ...labelStyle, formatter: (v: number) => String(v) }
        : { show: false },
    });
    return xAxes.length - 1;
  };
  const addY = (grid: number, position: string, min: number, max: number, ticks: number[], len: number,
    labels?: number[], fmt?: (v: number) => string) => {
    yAxes.push({
      type: "value", gridIndex: grid, position, min, max,
      axisLine: { show: false, onZero: false },
      splitLine: { show: false },
      axisTick: { show: true, inside: true, length: len, customValues: ticks, lineStyle: { color: "#000", width: len > 5 ? 1.5 : 1.1 } },
      axisLabel: labels
        ? { show: true, customValues: labels, margin: 10, ...labelStyle, formatter: fmt }
        : { show: false },
    });
    return yAxes.length - 1;
  };

  const yRanges = [
    { min: -0.08, max: 8.12, major: topYMajor, minor: topYMinor, fmt: (v: number) => v.toFixed(1) },
    { min: -1.62, max: 2.18, major: resMajor, minor: resMinor, fmt: (v: number) => String(v) },
    { min: -0.02, max: 4.49, major: botYMajor, minor: botYMinor, fmt: (v: number) => String(v) },
    { min: -1.46, max: 1.7, major: resMajor, minor: resMinor, fmt: (v: number) => String(v) },
  ];

  const prim: { x: number; y: number }[] = [];
  yRanges.forEach((r, g) => {
    const isRes = g % 2 === 1;
    const x0 = addX(g, "bottom", xMajorTicks, 7, isRes ? xMajorTicks : undefined);
    addX(g, "bottom", xMinorTicks, 3.5);
    addX(g, "top", xMajorTicks, 7);
    addX(g, "top", xMinorTicks, 3.5);
    const y0 = addY(g, "left", r.min, r.max, r.major, 7, r.major, r.fmt);
    addY(g, "left", r.min, r.max, r.minor, 3.5);
    addY(g, "right", r.min, r.max, r.major, 7);
    addY(g, "right", r.min, r.max, r.minor, 3.5);
    prim.push({ x: x0, y: y0 });
  });

  const line = (data: number[][], g: number, color: string, width: number) => ({
    type: "line", data, xAxisIndex: prim[g].x, yAxisIndex: prim[g].y,
    symbol: "none", showSymbol: false, silent: true, clip: true,
    lineStyle: { color, width, join: "round", cap: "round" },
    itemStyle: { color },
  });

  const series = [
    line(topObs, 0, "#0000ff", 3.6),
    line(topCont, 0, "#000000", 1.6),
    line(topModel, 0, "#ff0000", 1.8),
    line(topEvsg, 0, "#ff0000", 3.4),
    line(topPahPlus, 0, "#0000ff", 3.4),
    line(topPah0, 0, "#008000", 3.4),
    line(topPahX, 0, "#800080", 3.4),
    line(topResid, 1, "#ffa500", 1.5),
    line(botObs, 2, "#0000ff", 3.6),
    line(botCont, 2, "#000000", 1.6),
    line(botModel, 2, "#ff0000", 1.8),
    line(botEvsg, 2, "#ff0000", 3.4),
    line(botPahPlus, 2, "#0000ff", 3.4),
    line(botPah0, 2, "#008000", 3.4),
    line(botPahX, 2, "#800080", 3.4),
    line(botResid, 3, "#ffa500", 1.5),
  ];

  const fracColors = ["#800080", "#ff0000", "#0000ff", "#008000"];
  const fracTexts = (percents: string[], y0: number) =>
    percents.map((p, i) => {
      const c = fracColors[i];
      const s = fracSups[i];
      const sup = s === "x" ? `{si|${s}}` : s ? `{s|${s}}` : "";
      return {
        type: "text", x: 655, y: y0 + i * 22.2, z: 100,
        style: {
          text: `{i|${fracNames[i]}}${sup}{n| =  ${p}}`,
          align: "left", verticalAlign: "middle",
          rich: {
            i: { fontSize: 20, fontFamily: FONT, fontStyle: "italic", fill: c, lineHeight: 20 },
            si: { fontSize: 14, fontFamily: FONT, fontStyle: "italic", fill: c, lineHeight: 20, height: 9, verticalAlign: "top" },
            s: { fontSize: 14, fontFamily: FONT, fill: c, lineHeight: 20, height: 9, verticalAlign: "top", padding: [0, 0, 0, 4] },
            n: { fontSize: 20, fontFamily: FONT, fill: c, lineHeight: 20 },
          },
        },
      };
    });

  const yLabel = (y: number) => ({
    type: "text", x: 17, y, rotation: Math.PI / 2, z: 100,
    style: {
      text: "Flux density (10{s|−12}{i|W/m}{s|2}{i|/μm})",
      fontSize: 21, fontFamily: FONT, fill: "#000", align: "center", verticalAlign: "middle",
      rich: {
        i: { fontSize: 21, fontFamily: FONT, fontStyle: "italic", fill: "#000", lineHeight: 26 },
        s: { fontSize: 15, fontFamily: FONT, fill: "#000", lineHeight: 26, height: 10, verticalAlign: "top" },
      },
    },
  });
  const xLabel = (y: number) => ({
    type: "text", x: 635, y, z: 100,
    style: {
      text: "Wavelength ({i|μm})",
      fontSize: 22, fontFamily: FONT, fill: "#000", align: "center", verticalAlign: "middle",
      rich: { i: { fontSize: 22, fontFamily: FONT, fontStyle: "italic", fill: "#000" } },
    },
  });
  const box = (x: number, y: number, w: number, h: number, text: string) => [
    {
      type: "rect", z: 100, shape: { x, y, width: w, height: h, r: 5 },
      style: { fill: "#92bddb", stroke: "#7a7a7a", lineWidth: 2 },
    },
    {
      type: "text", z: 101, x: x + w / 2, y: y + h / 2,
      style: { text, fontSize: 22, fontFamily: FONT, fill: "#000", align: "center", verticalAlign: "middle" },
    },
  ];

  return {
    animation: false,
    backgroundColor: "#ffffff",
    grid: grids,
    xAxis: xAxes,
    yAxis: yAxes,
    series,
    graphic: [
      ...box(174, 16, 198, 35, sourceNames[0]),
      ...box(174, 378, 178, 34, sourceNames[1]),
      ...fracTexts(topPercents, 25),
      ...fracTexts(botPercents, 390),
      yLabel(159),
      yLabel(519),
      xLabel(331),
      xLabel(693),
    ],
  };
}

export default function App() {
  const chartRef = useRef<HTMLDivElement>(null);

  useEffect(() => {
    if (!chartRef.current) return;
    document.body.style.margin = "0";
    const chart = echarts.init(chartRef.current, null, { renderer: "svg" });
    chart.setOption(buildOption());
    return () => {
      chart.dispose();
    };
  }, []);

  return <div ref={chartRef} style={{ width: 1200, height: 711 }} />;
}
